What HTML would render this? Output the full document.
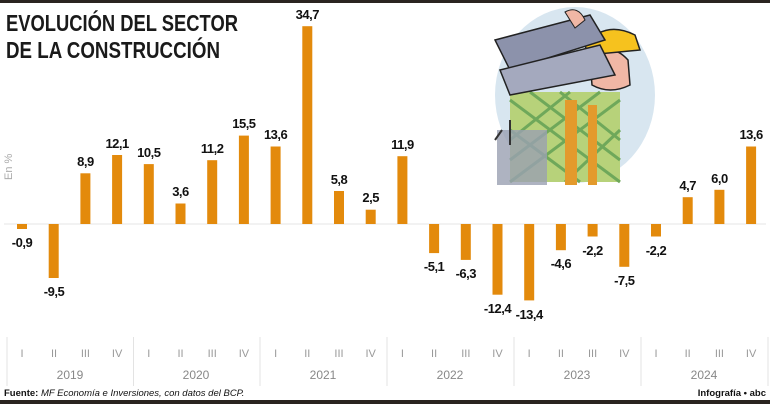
<!DOCTYPE html>
<html><head><meta charset="utf-8"><style>
html,body{margin:0;padding:0;background:#fff;}
svg{display:block;}
.t{font-family:"Liberation Sans",sans-serif;font-weight:bold;font-size:23px;fill:#1a1a1a;}
.v{font-family:"Liberation Sans",sans-serif;font-weight:bold;font-size:13px;fill:#111;text-anchor:middle;letter-spacing:-0.5px;}
.q{font-family:"Liberation Sans",sans-serif;font-size:11px;fill:#999;text-anchor:middle;}
.y{font-family:"Liberation Sans",sans-serif;font-size:12px;fill:#888;text-anchor:middle;}
</style></head><body>
<svg width="770" height="404" viewBox="0 0 770 404" xmlns="http://www.w3.org/2000/svg">
<rect x="0" y="0" width="770" height="3" fill="#2a2420"/>
<text class="t" x="6" y="31" textLength="232" lengthAdjust="spacingAndGlyphs">EVOLUCIÓN DEL SECTOR</text>
<text class="t" x="6" y="58" textLength="214" lengthAdjust="spacingAndGlyphs">DE LA CONSTRUCCIÓN</text>
<text x="12" y="180" transform="rotate(-90 12 180)" font-family="Liberation Sans,sans-serif" font-size="11" fill="#aaa">En %</text>
<line x1="4" y1="224" x2="766" y2="224" stroke="#e6e6e6" stroke-width="1"/>

<!-- illustration -->
<g>
<ellipse cx="575" cy="95" rx="80" ry="88" fill="#d8e6f0"/>
<rect x="510" y="92" width="110" height="90" fill="#b7d27a"/>
<path d="M510 100 L620 182 M530 92 L620 160 M510 130 L580 182 M560 92 L620 140 M620 100 L510 182 M600 92 L510 160 M620 130 L565 182 M570 92 L510 140" stroke="#6fa85a" stroke-width="3"/>
<rect x="497" y="130" width="50" height="55" fill="#9aa0b2" opacity="0.8"/>
<path d="M502 130 L495 140 M510 120 L510 145" stroke="#333" stroke-width="2"/>
<rect x="565" y="100" width="12" height="85" fill="#e39a2c"/>
<rect x="588" y="105" width="9" height="80" fill="#e39a2c"/>
<path d="M590 60 Q610 40 628 60 L630 85 Q610 95 592 85 Z" fill="#f0b7a5" stroke="#222" stroke-width="1.5"/>
<path d="M585 45 Q605 20 635 35 L640 50 L588 55 Z" fill="#f6c21e" stroke="#222" stroke-width="1.5"/>
<path d="M495 40 L590 15 L605 40 L510 70 Z" fill="#8c92ab" stroke="#222" stroke-width="1.5"/>
<path d="M500 70 L600 45 L615 75 L510 95 Z" fill="#a4a9be" stroke="#222" stroke-width="1.5"/>
<path d="M565 12 Q578 5 585 20 L575 28 Z" fill="#f0b7a5" stroke="#222" stroke-width="1"/>
</g>

<g fill="#e38a0c">
<rect x="17" y="224" width="10" height="5"/>
<rect x="48.7" y="224" width="10" height="54"/>
<rect x="80.4" y="173.3" width="10" height="50.7"/>
<rect x="112.1" y="155" width="10" height="69"/>
<rect x="143.8" y="164.1" width="10" height="59.9"/>
<rect x="175.5" y="203.5" width="10" height="20.5"/>
<rect x="207.2" y="160.2" width="10" height="63.8"/>
<rect x="238.9" y="135.6" width="10" height="88.4"/>
<rect x="270.6" y="146.5" width="10" height="77.5"/>
<rect x="302.3" y="26.2" width="10" height="197.8"/>
<rect x="334" y="191" width="10" height="33"/>
<rect x="365.7" y="209.7" width="10" height="14.3"/>
<rect x="397.4" y="156.2" width="10" height="67.8"/>
<rect x="429.1" y="224" width="10" height="29.1"/>
<rect x="460.8" y="224" width="10" height="35.9"/>
<rect x="492.5" y="224" width="10" height="70.7"/>
<rect x="524.2" y="224" width="10" height="76.4"/>
<rect x="555.9" y="224" width="10" height="26.2"/>
<rect x="587.6" y="224" width="10" height="12.5"/>
<rect x="619.3" y="224" width="10" height="42.8"/>
<rect x="651" y="224" width="10" height="12.5"/>
<rect x="682.7" y="197.2" width="10" height="26.8"/>
<rect x="714.4" y="189.8" width="10" height="34.2"/>
<rect x="746.1" y="146.5" width="10" height="77.5"/>
</g>
<g class="v">
<text class="v" x="22" y="247">-0,9</text>
<text class="v" x="54" y="296">-9,5</text>
<text class="v" x="85.4" y="166">8,9</text>
<text class="v" x="117.1" y="148">12,1</text>
<text class="v" x="148.8" y="157">10,5</text>
<text class="v" x="180.5" y="196">3,6</text>
<text class="v" x="212.2" y="153">11,2</text>
<text class="v" x="243.9" y="128">15,5</text>
<text class="v" x="275.6" y="139">13,6</text>
<text class="v" x="307.3" y="19">34,7</text>
<text class="v" x="339" y="184">5,8</text>
<text class="v" x="370.7" y="202">2,5</text>
<text class="v" x="402.4" y="149">11,9</text>
<text class="v" x="434.1" y="271">-5,1</text>
<text class="v" x="465.8" y="278">-6,3</text>
<text class="v" x="497.5" y="313">-12,4</text>
<text class="v" x="529.2" y="319">-13,4</text>
<text class="v" x="560.9" y="268">-4,6</text>
<text class="v" x="592.6" y="255">-2,2</text>
<text class="v" x="624.3" y="285">-7,5</text>
<text class="v" x="656" y="255">-2,2</text>
<text class="v" x="687.7" y="190">4,7</text>
<text class="v" x="719.4" y="183">6,0</text>
<text class="v" x="751.1" y="139">13,6</text>
</g>

<g stroke="#e3e3e3" stroke-width="1">
<line x1="7" y1="337" x2="7" y2="386"/>
<line x1="133.5" y1="337" x2="133.5" y2="386"/>
<line x1="260" y1="337" x2="260" y2="386"/>
<line x1="387" y1="337" x2="387" y2="386"/>
<line x1="514" y1="337" x2="514" y2="386"/>
<line x1="641" y1="337" x2="641" y2="386"/>
<line x1="768" y1="337" x2="768" y2="386"/>
</g>
<g class="q">
<text class="q" x="22" y="357">I</text><text class="q" x="54" y="357">II</text><text class="q" x="85.4" y="357">III</text><text class="q" x="117.1" y="357">IV</text>
<text class="q" x="148.8" y="357">I</text><text class="q" x="180.5" y="357">II</text><text class="q" x="212.2" y="357">III</text><text class="q" x="243.9" y="357">IV</text>
<text class="q" x="275.6" y="357">I</text><text class="q" x="307.3" y="357">II</text><text class="q" x="339" y="357">III</text><text class="q" x="370.7" y="357">IV</text>
<text class="q" x="402.4" y="357">I</text><text class="q" x="434.1" y="357">II</text><text class="q" x="465.8" y="357">III</text><text class="q" x="497.5" y="357">IV</text>
<text class="q" x="529.2" y="357">I</text><text class="q" x="560.9" y="357">II</text><text class="q" x="592.6" y="357">III</text><text class="q" x="624.3" y="357">IV</text>
<text class="q" x="656" y="357">I</text><text class="q" x="687.7" y="357">II</text><text class="q" x="719.4" y="357">III</text><text class="q" x="751.1" y="357">IV</text>
</g>
<text class="y" x="70" y="379">2019</text>
<text class="y" x="196" y="379">2020</text>
<text class="y" x="323" y="379">2021</text>
<text class="y" x="450" y="379">2022</text>
<text class="y" x="577" y="379">2023</text>
<text class="y" x="704" y="379">2024</text>

<text x="4" y="396" font-family="Liberation Sans,sans-serif" font-size="9.5" fill="#111"><tspan font-weight="bold">Fuente:</tspan><tspan font-style="italic"> MF Economía e Inversiones, con datos del BCP.</tspan></text>
<text x="766" y="396" text-anchor="end" font-family="Liberation Sans,sans-serif" font-size="9.5" font-weight="bold" fill="#111">Infografía • abc</text>
<rect x="0" y="400" width="770" height="4" fill="#2a2420"/>
</svg>
</body></html>
